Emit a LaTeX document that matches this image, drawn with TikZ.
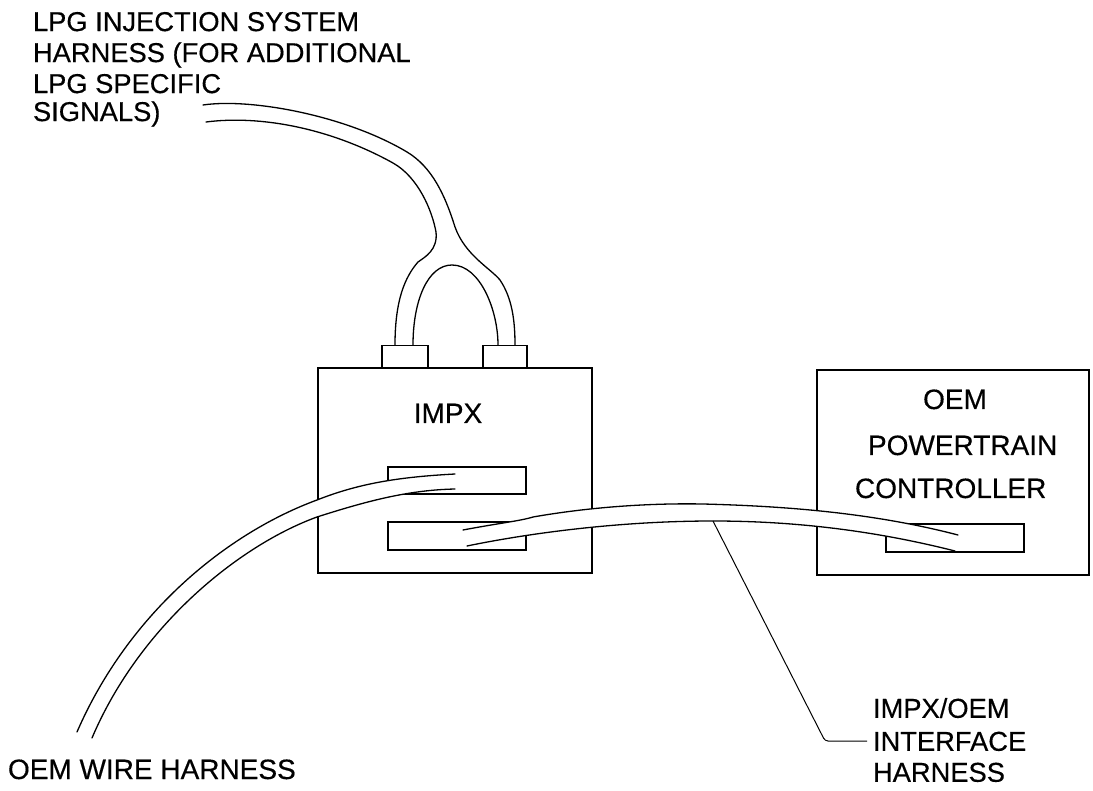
\documentclass[tikz,border=0pt]{standalone}
\usepackage{fontspec}
\setmainfont[FakeBold=0.4]{Liberation Sans}
\begin{document}
\begin{tikzpicture}[x=1pt,y=-1pt,
  every node/.style={inner sep=0pt,outer sep=0pt},
  outline/.style={draw=black,line width=1.1pt,fill=white,rectangle},
  wire/.style={draw=black,line width=1.3pt,line cap=round},
  leader/.style={draw=black,line width=1pt,rounded corners=3pt},
  lbl/.style={font=\fontsize{28}{31}\selectfont,text=black},
  lbl block/.style={font=\fontsize{27.3}{31}\selectfont,text=black,align=left,anchor=north west}]
\useasboundingbox (0,0) rectangle (1093,791);
\fill[white] (0,0) rectangle (1093,791);

% Controller boxes
\node[outline,minimum width=274pt,minimum height=205pt] (impx) at (455,470.5) {};
\node[outline,minimum width=272pt,minimum height=205pt] (oem) at (953,472.5) {};
\node[outline,minimum width=46pt,minimum height=22.5pt] (conA) at (405,356.8) {};
\node[outline,minimum width=44pt,minimum height=22.5pt] (conB) at (505,356.8) {};
\node[outline,minimum width=138pt,minimum height=27pt] (slotA) at (457,480.5) {};
\node[outline,minimum width=138pt,minimum height=28pt] (slotB) at (457,536) {};
\node[outline,minimum width=138pt,minimum height=28pt] (slotC) at (955,538) {};

% LPG harness
\draw[wire] (203,105) .. controls (250,98) and (345,115) .. (407,152) .. controls (432,167) and (445,195) .. (455,227) .. controls (465,255) and (490,268) .. (500,280) .. controls (512,298) and (515,320) .. (515,345);
\draw[wire] (206,122) .. controls (260,115) and (330,128) .. (393,163) .. controls (418,177) and (432,210) .. (436,232) .. controls (438,250) and (425,257) .. (418,262) .. controls (405,277) and (395,300) .. (395,345);
\draw[wire] (413,345) .. controls (413,300) and (428,265) .. (452,265) .. controls (480,265) and (498,310) .. (498,345);

% OEM wire harness
\fill[white] (455,474) .. controls (400,477) and (360,483) .. (317,500) -- (317,517) .. controls (370,500) and (410,490) .. (455,489) -- cycle;
\draw[wire] (455,474) .. controls (400,477) and (360,483) .. (317,500) .. controls (230,532) and (130,610) .. (77,732);
\draw[wire] (455,489) .. controls (410,490) and (370,500) .. (317,517) .. controls (240,545) and (140,625) .. (92,738);

% Interface harness
\fill[white] (463,530) .. controls (500,523) and (520,521) .. (533,517) .. controls (590,507) and (650,503) .. (703,504) .. controls (780,506) and (870,512) .. (958,535) -- (955,551) .. controls (880,532) and (800,521) .. (713,521) .. controls (620,521) and (530,533) .. (467,546) -- cycle;
\draw[wire] (463,530) .. controls (500,523) and (520,521) .. (533,517) .. controls (590,507) and (650,503) .. (703,504) .. controls (780,506) and (870,512) .. (958,535);
\draw[wire] (467,546) .. controls (530,533) and (620,521) .. (713,521) .. controls (800,521) and (880,532) .. (955,551);

% Labels
\node[lbl block] (lpg) at (33,12) {LPG INJECTION SYSTEM\\HARNESS (FOR ADDITIONAL\\LPG SPECIFIC\\[-3pt]SIGNALS)};
\node[lbl,anchor=base] (impxt) at (448,423) {IMPX};
\node[lbl,anchor=base] (oemt) at (955,409) {OEM};
\node[lbl,anchor=base west] (pow) at (868,455) {POWERTRAIN};
\node[lbl,anchor=base west] (con) at (855,498) {CONTROLLER};
\node[lbl,anchor=base west] (wh) at (8,779) {OEM WIRE HARNESS};
\node[lbl block] (ifc) at (873,698) {IMPX/OEM\\[2pt]INTERFACE\\HARNESS};

% Leader
\coordinate (leadStart) at (713,521);
\coordinate (leadElbow) at (825,741);
\coordinate (leadEnd) at (867,741);
\draw[leader] (leadStart) -- (leadElbow) -- (leadEnd);
\end{tikzpicture}
\end{document}
